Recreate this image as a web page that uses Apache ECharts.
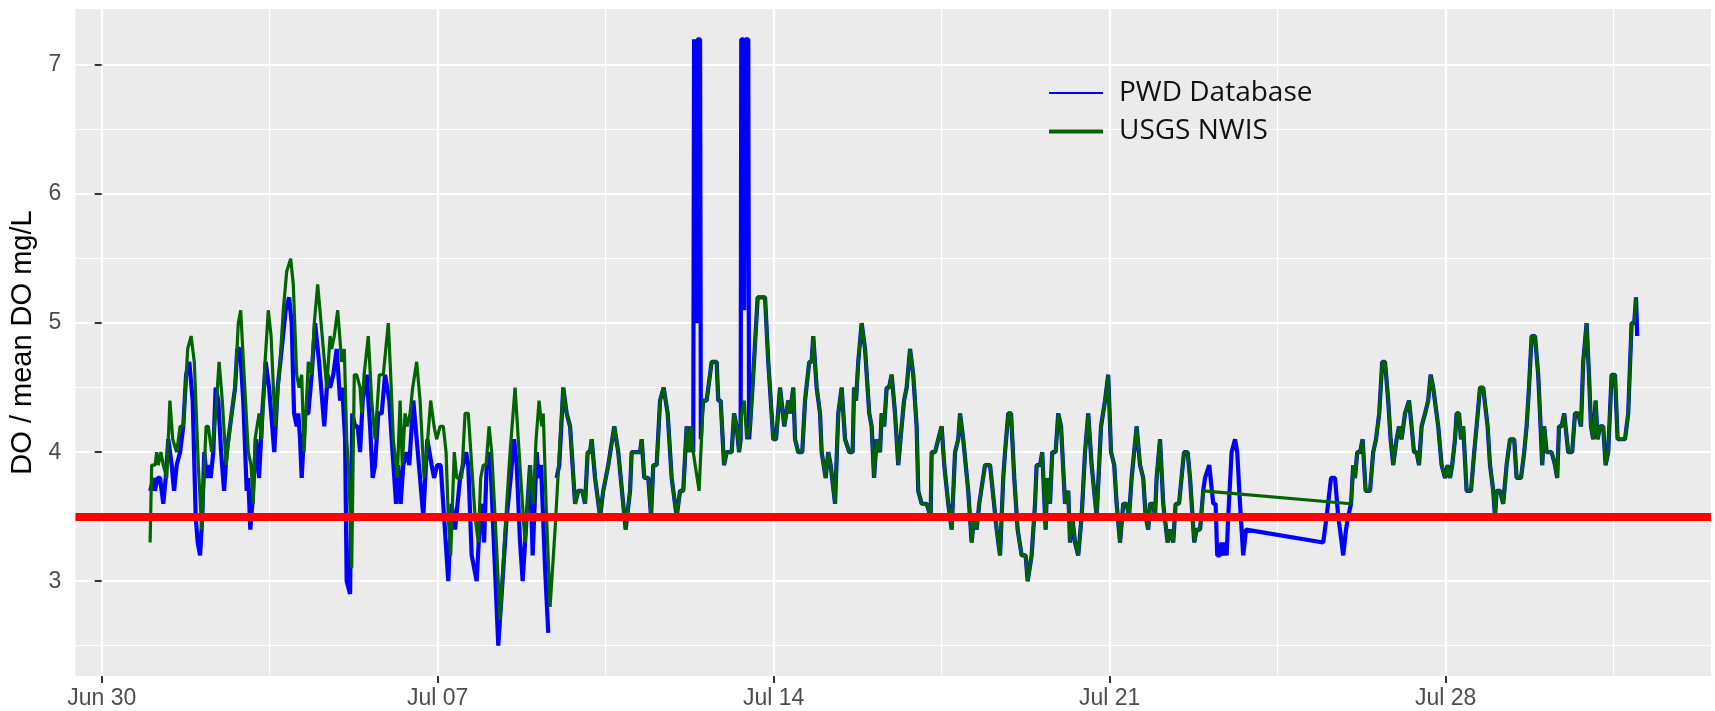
<!DOCTYPE html>
<html lang="en">
<head>
<meta charset="UTF-8">
<title>DO / mean DO</title>
<script src="https://cdn.jsdelivr.net/npm/echarts@6.0.0/dist/echarts.min.js"></script>
</head>
<body style="margin:0">
<div id="main" style="width:1715px;height:711px"></div>
<script>
// x values are hours since Jun 30 00:00
const tickHours = [0, 168, 336, 504, 672];
const tickLabels = ['Jun 30', 'Jul 07', 'Jul 14', 'Jul 21', 'Jul 28'];
const minorHours = [84, 252, 420, 588, 756];
const yTicks = [3, 4, 5, 6, 7];
const yMinor = [2.5, 3.5, 4.5, 5.5, 6.5];
const threshold = 3.5;

// PWD Database, Jul 1 - Jul 10 (null = missing record)
const pwdEarly = [[24.3,3.7],[25.8,3.8],[26.6,3.7],[28.0,3.8],[29.2,3.8],[30.8,3.6],[32.0,3.8],[33.3,4.1],[35.0,3.9],[36.2,3.7],[37.5,3.9],[39.2,4.0],[40.8,4.2],[42.2,4.6],[43.8,4.7],[45.5,4.4],[47.0,3.5],[48.0,3.3],[49.2,3.2],[50.3,3.5],[51.3,4.0],[52.5,3.8],[53.3,3.9],[54.5,3.8],[55.8,4.0],[57.0,4.5],[58.3,4.4],[59.7,4.0],[61.2,3.7],[62.5,4.0],[65.0,4.3],[66.7,4.5],[67.8,4.8],[69.2,4.8],[70.8,4.4],[72.5,3.7],[73.3,3.8],[74.3,3.4],[75.3,3.6],[77.2,4.1],[78.7,3.8],[80.3,4.3],[82.0,4.7],[83.7,4.5],[86.3,4.0],[88.0,4.5],[90.0,4.8],[92.0,5.1],[93.7,5.2],[95.0,5.0],[96.2,4.3],[97.5,4.2],[98.3,4.3],[99.2,4.1],[100.0,3.8],[101.7,4.3],[103.3,4.3],[105.0,4.6],[106.7,5.0],[108.7,4.7],[111.3,4.2],[113.0,4.6],[114.2,4.5],[115.8,4.6],[117.5,4.8],[119.2,4.4],[120.3,4.5],[121.7,4.1],[122.5,3.0],[124.2,2.9],[125.3,4.3],[126.7,4.2],[128.0,4.2],[129.2,4.0],[130.5,4.4],[132.5,4.6],[134.2,4.2],[135.5,3.8],[136.7,3.9],[138.3,4.3],[140.0,4.3],[141.7,4.6],[142.5,4.6],[143.8,4.4],[145.0,4.1],[147.2,3.6],[148.3,3.9],[149.5,3.6],[150.8,3.9],[152.5,4.0],[153.8,3.9],[155.8,4.4],[157.5,4.1],[159.2,3.8],[160.8,3.5],[162.8,4.1],[165.0,3.9],[166.2,3.8],[167.8,3.9],[169.5,3.9],[171.2,3.5],[173.3,3.0],[175.0,3.6],[176.7,3.4],[179.2,3.8],[182.2,4.0],[183.3,3.9],[185.0,3.2],[187.5,3.0],[189.2,3.5],[190.0,3.6],[191.2,3.3],[192.5,3.9],[194.2,4.0],[195.8,3.4],[198.3,2.5],[200.0,2.9],[202.5,3.5],[204.5,3.8],[206.2,4.1],[207.5,3.9],[209.2,3.3],[210.5,3.0],[212.5,3.5],[214.2,3.9],[215.5,3.2],[217.5,4.0],[218.3,3.8],[219.7,3.9],[221.7,3.1],[223.3,2.6],[225.4,null],[227.5,3.8],[228.8,3.9],[230.8,4.5]];

// USGS NWIS, Jul 1 - Jul 10
const nwisEarly = [[24.2,3.3],[25.0,3.9],[26.7,3.9],[27.5,4.0],[28.3,3.9],[29.6,4.0],[30.8,3.9],[32.5,3.8],[34.1,4.4],[35.5,4.1],[37.5,4.0],[39.2,4.2],[40.8,4.2],[43.0,4.8],[44.7,4.9],[46.3,4.7],[48.3,3.9],[50.0,3.4],[52.2,4.2],[53.3,4.2],[55.0,4.0],[55.8,4.1],[57.0,4.3],[58.7,4.7],[60.3,4.4],[62.2,3.9],[64.2,4.2],[66.7,4.5],[68.3,5.0],[69.5,5.1],[71.2,4.6],[73.3,4.0],[74.7,3.9],[75.8,3.6],[76.7,4.1],[78.7,4.3],[80.0,4.1],[81.7,4.7],[83.3,5.1],[84.7,4.9],[86.7,4.2],[89.2,4.7],[90.8,5.1],[92.5,5.4],[94.5,5.5],[95.8,5.3],[97.5,4.6],[98.7,4.5],[100.0,4.6],[101.2,4.0],[103.3,4.7],[105.0,4.6],[106.3,5.0],[108.0,5.3],[109.7,5.0],[112.5,4.5],[114.2,4.9],[115.0,4.8],[116.3,4.9],[118.0,5.1],[120.0,4.7],[121.3,4.8],[122.5,4.1],[123.7,3.8],[125.0,3.1],[126.3,4.6],[127.5,4.6],[129.2,4.5],[130.0,4.3],[131.2,4.6],[133.3,4.9],[135.0,4.4],[136.7,4.1],[138.8,4.6],[140.8,4.6],[143.3,5.0],[144.5,4.6],[145.8,4.1],[147.8,3.8],[149.2,4.4],[150.3,3.9],[151.7,4.3],[152.8,4.2],[154.2,4.3],[155.5,4.5],[157.5,4.7],[159.2,4.4],[161.2,3.8],[162.5,4.0],[164.5,4.4],[166.2,4.2],[167.5,4.1],[169.2,4.2],[170.8,4.2],[172.2,4.0],[173.3,3.5],[174.5,3.2],[176.3,4.0],[177.5,3.8],[180.0,3.8],[181.7,4.3],[183.3,4.3],[185.0,3.9],[186.7,3.5],[188.3,3.3],[189.5,3.8],[190.8,3.9],[192.2,3.9],[193.7,4.2],[195.0,4.0],[196.7,3.5],[199.2,2.7],[201.7,3.4],[204.2,4.0],[206.7,4.5],[208.3,4.1],[210.8,3.5],[211.7,3.3],[214.2,3.9],[215.8,3.6],[217.2,4.1],[218.7,4.4],[220.0,4.2],[220.8,4.3],[222.2,3.6],[224.2,2.8],[226.7,3.4],[229.2,4.1],[230.8,4.5]];

// stretches where both records read the same
const bothA = [[232.5,4.3],[234.2,4.2],[236.7,3.6],[238.3,3.7],[240.3,3.7],[241.7,3.6],[243.0,4.0],[244.2,4.0],[245.0,4.1],[246.7,3.8],[249.2,3.5],[250.8,3.7],[253.3,3.9],[256.3,4.2],[258.3,4.0],[262.0,3.4],[264.2,3.7],[265.0,4.0],[269.2,4.0],[270.0,4.1],[271.3,3.8],[273.3,3.8],[274.7,3.5],[275.8,3.9],[277.5,3.9],[279.2,4.4],[281.0,4.5],[283.0,4.3],[285.0,3.8],[287.5,3.5],[289.2,3.7],[290.8,3.7],[292.5,4.2],[293.7,4.0],[294.7,4.2],[295.8,4.0]];
const pwdSpike1 = [[296.2,7.2],[297.2,7.2],[297.6,5.0],[298.0,7.2],[299.2,7.2],[299.6,4.1],[300.2,4.3]];
const nwisDip1 = [[296.7,4.0],[298.7,3.7]];
const bothB = [[300.8,4.4],[302.5,4.4],[305.0,4.7],[307.5,4.7],[308.3,4.4],[309.5,4.4],[311.2,3.9],[312.5,4.0],[315.0,4.0],[316.2,4.3],[317.5,4.2],[318.7,4.0]];
const pwdSpike2 = [[319.5,4.1],[319.8,7.2],[320.9,7.2],[321.3,5.1],[321.8,7.2],[323.3,7.2],[323.7,4.1]];
const nwisDip2 = [[320.0,4.3],[321.3,4.4],[322.5,4.1]];
const bothC = [[324.2,4.2],[325.8,4.6],[328.0,5.2],[330.0,5.2],[331.7,5.2],[333.3,4.7],[335.8,4.1],[337.2,4.1],[339.2,4.5],[341.3,4.2],[343.3,4.4],[344.2,4.3],[345.8,4.5],[346.7,4.1],[348.3,4.0],[350.3,4.0],[351.7,4.4],[353.8,4.7],[355.0,4.7],[355.8,4.9],[357.5,4.5],[359.2,4.3],[360.0,4.0],[362.0,3.8],[363.3,4.0],[364.5,3.9],[366.7,3.6],[367.5,3.6],[368.3,4.3],[370.0,4.5],[371.7,4.1],[373.8,4.0],[375.5,4.0],[376.2,4.5],[377.2,4.4],[378.3,4.7],[380.0,5.0],[381.7,4.8],[383.8,4.3],[385.0,4.2],[386.2,3.8],[387.5,4.1],[389.2,4.0],[390.0,4.3],[391.3,4.2],[392.5,4.5],[393.7,4.5],[395.0,4.6],[396.7,4.3],[398.3,3.9],[400.0,4.2],[401.2,4.4],[402.5,4.5],[404.2,4.8],[405.8,4.6],[407.5,4.2],[408.3,3.7],[410.0,3.6],[412.5,3.6],[414.5,3.5],[415.0,4.0],[416.7,4.0],[418.3,4.1],[420.0,4.2],[421.3,3.9],[423.3,3.6],[425.0,3.4],[426.7,4.0],[428.3,4.1],[429.2,4.3],[430.8,4.1],[433.3,3.7],[435.0,3.3],[436.2,3.5],[437.5,3.4],[438.8,3.6],[441.7,3.9],[444.2,3.9],[446.2,3.6],[447.5,3.4],[449.2,3.2],[450.8,3.8],[451.7,4.0],[453.3,4.3],[454.7,4.3],[456.3,3.8],[458.0,3.4],[460.0,3.2],[462.0,3.2],[463.0,3.0],[465.0,3.2],[466.7,3.6],[467.5,3.9],[469.2,3.9],[470.3,4.0],[472.0,3.4],[472.8,3.8],[474.2,3.6],[475.3,4.0],[477.0,4.0],[478.3,4.3],[479.7,4.2],[481.7,3.6],[483.3,3.7],[484.2,3.3],[485.3,3.5],[486.7,3.3],[488.3,3.2],[490.0,3.5],[491.7,4.0],[493.3,4.3],[495.0,3.9],[497.5,3.5],[499.7,4.2],[501.7,4.4],[503.3,4.6],[504.7,4.0],[506.3,3.9],[507.5,3.6],[509.2,3.3],[510.8,3.6],[512.5,3.6],[513.7,3.5],[515.0,3.8],[517.5,4.2],[519.2,3.9],[520.8,3.8],[522.0,3.5],[523.3,3.4],[524.2,3.6],[525.8,3.6],[526.7,3.5],[527.5,3.8],[529.2,4.1],[530.8,3.6],[533.0,3.3],[534.2,3.4],[535.8,3.3],[537.0,3.6],[538.7,3.6],[541.2,4.0],[543.0,4.0],[544.2,3.8],[546.3,3.3],[547.5,3.4],[549.2,3.4],[550.8,3.7]];
// Jul 23 - Jul 26: NWIS has no records, PWD has a partial gap
const pwdGap = [[551.7,3.8],[553.8,3.9],[555.8,3.6],[557.0,3.6],[557.8,3.2],[559.2,3.2],[559.9,3.3],[560.8,3.2],[561.7,3.3],[562.5,3.2],[563.3,3.5],[565.0,4.0],[566.7,4.1],[567.8,4.0],[569.2,3.6],[570.8,3.2],[572.2,3.4],[610.8,3.3],[612.5,3.5],[614.7,3.8],[616.7,3.8],[618.3,3.5],[619.2,3.4],[620.8,3.2],[622.2,3.4],[623.3,3.5]];
const bothD = [[624.7,3.6],[625.8,3.9],[626.7,3.8],[627.8,4.0],[629.2,4.0],[630.5,4.1],[632.0,3.7],[634.2,3.7],[635.8,4.0],[637.2,4.1],[638.8,4.3],[640.3,4.7],[641.7,4.7],[643.3,4.4],[644.5,4.1],[645.8,3.9],[647.5,4.1],[648.7,4.2],[650.0,4.1],[651.7,4.3],[653.7,4.4],[655.0,4.2],[656.2,4.0],[657.5,4.0],[658.7,3.9],[660.0,4.2],[661.7,4.3],[663.3,4.4],[664.5,4.6],[665.8,4.5],[666.7,4.5],[668.3,4.2],[670.0,3.9],[671.7,3.8],[673.0,3.9],[674.2,3.8],[675.3,3.9],[676.7,4.1],[677.5,4.3],[678.7,4.3],[679.7,4.1],[680.8,4.2],[682.5,3.7],[684.7,3.7],[686.3,4.0],[687.5,4.2],[689.2,4.5],[690.8,4.5],[693.0,4.2],[694.2,3.9],[695.8,3.7],[696.7,3.5],[697.5,3.7],[699.2,3.7],[700.8,3.6],[702.5,3.9],[704.2,4.1],[706.3,4.1],[707.5,3.8],[709.7,3.8],[711.3,4.0],[712.5,4.2],[713.7,4.5],[715.0,4.9],[716.7,4.9],[718.3,4.6],[719.2,4.3],[720.3,3.9],[721.3,4.2],[722.5,4.0],[725.0,4.0],[726.7,3.9],[727.8,3.8],[728.7,4.2],[730.0,4.2],[731.3,4.3],[733.3,4.0],[735.3,4.0],[736.7,4.3],[738.3,4.3],[739.7,4.2],[740.8,4.7],[742.5,5.0],[743.7,4.6],[744.7,4.2],[745.8,4.1],[747.0,4.4],[748.0,4.1],[749.2,4.2],[750.8,4.2],[752.0,3.9],[753.3,4.0],[755.0,4.6],[756.7,4.6],[758.0,4.1],[760.0,4.1],[761.7,4.1],[763.3,4.3],[765.0,5.0],[766.3,5.0],[767.2,5.2]];
const pwdTail = [[767.8,4.9]];

const pwdPoints = [].concat(pwdEarly, bothA, pwdSpike1, bothB, pwdSpike2, bothC, pwdGap, bothD, pwdTail);
const nwisPoints = [].concat(nwisEarly, bothA, nwisDip1, bothB, nwisDip2, bothC, bothD);

const chart = echarts.init(document.getElementById('main'));

const tickFont = { color: '#4D4D4D', fontSize: 23, fontFamily: 'Liberation Sans' };
const majorLine = { show: true, lineStyle: { color: '#FFFFFF', width: 2.2 } };
const minorLine = { show: true, lineStyle: { color: '#FFFFFF', width: 1.1 } };
const xRange = { min: -13.15, max: 804.7 };
const yRange = { min: 2.265, max: 7.435 };

chart.setOption({
  animation: false,
  backgroundColor: '#FFFFFF',
  grid: {
    left: 75.4, right: 4, top: 9, bottom: 35,
    show: true, backgroundColor: '#EBEBEB', borderWidth: 0,
    containLabel: false, outerBoundsMode: 'none'
  },
  legend: {
    orient: 'vertical', left: 1047, top: 78, padding: 0,
    itemWidth: 54, itemHeight: 14, itemGap: 8.5,
    selectedMode: false,
    textStyle: { fontFamily: 'Open Sans', fontSize: 28, color: '#111111', lineHeight: 30, padding: [0, 0, 0, 11] },
    data: [
      { name: 'PWD Database', lineStyle: { width: 2, color: '#0000FF' }, itemStyle: { opacity: 0 } },
      { name: 'USGS NWIS', lineStyle: { width: 4, color: '#006400' }, itemStyle: { opacity: 0 } }
    ]
  },
  xAxis: [
    {
      type: 'value', ...xRange,
      axisLine: { show: false },
      axisTick: { show: true, customValues: tickHours, length: 7, lineStyle: { color: '#333333', width: 2 } },
      axisLabel: { customValues: tickHours, margin: 11, ...tickFont,
        formatter: v => tickLabels[tickHours.indexOf(v)] },
      splitLine: majorLine
    },
    {
      type: 'value', ...xRange, position: 'bottom',
      axisLine: { show: false },
      axisTick: { show: false, customValues: minorHours },
      axisLabel: { show: false, customValues: minorHours },
      splitLine: minorLine
    }
  ],
  yAxis: [
    {
      type: 'value', ...yRange,
      name: 'DO / mean DO mg/L', nameLocation: 'middle', nameGap: 28,
      nameTextStyle: { color: '#000000', fontSize: 29, fontFamily: 'Liberation Sans' },
      axisLine: { show: false },
      axisTick: { show: true, customValues: yTicks, length: 7, lineStyle: { color: '#333333', width: 2 } },
      axisLabel: { customValues: yTicks, margin: 14, ...tickFont },
      splitLine: majorLine
    },
    {
      type: 'value', ...yRange, position: 'left',
      axisLine: { show: false },
      axisTick: { show: false, customValues: yMinor },
      axisLabel: { show: false, customValues: yMinor },
      splitLine: minorLine
    }
  ],
  series: [
    {
      name: 'PWD Database', type: 'line', data: pwdPoints,
      symbol: 'none', silent: true,
      lineStyle: { color: '#0000FF', width: 4.2 }, itemStyle: { color: '#0000FF' }
    },
    {
      name: 'USGS NWIS', type: 'line', data: nwisPoints,
      symbol: 'none', silent: true,
      lineStyle: { color: '#006400', width: 3.2 }, itemStyle: { color: '#006400' },
      markLine: {
        silent: true, symbol: 'none', label: { show: false },
        lineStyle: { color: '#FF0000', width: 8, type: 'solid' },
        data: [{ yAxis: threshold }]
      }
    }
  ]
});
</script>
</body>
</html>
